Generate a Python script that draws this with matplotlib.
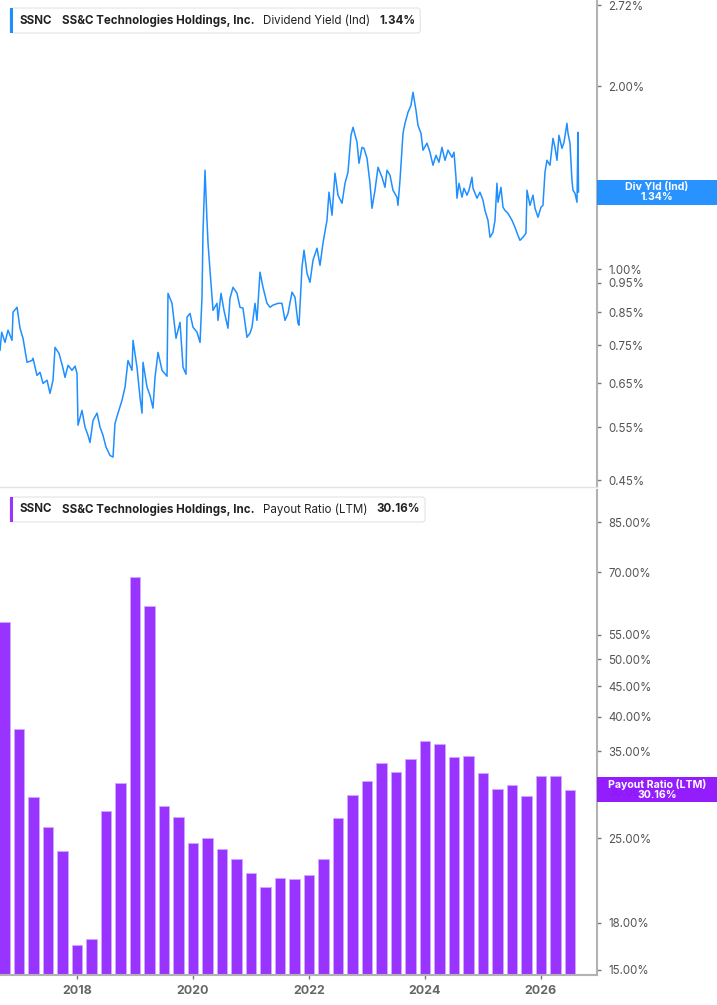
import matplotlib
matplotlib.use("Agg")
import matplotlib.pyplot as plt
from matplotlib.patches import Rectangle, FancyBboxPatch
from matplotlib.transforms import IdentityTransform
from matplotlib.ticker import FixedLocator, FixedFormatter, NullLocator

plt.rcParams['font.family'] = ['Inter', 'DejaVu Sans']

# Dividend yield (Ind), % (dates as decimal years)
yield_dates = [
    2016.672, 2016.701, 2016.759, 2016.810, 2016.879, 2016.897, 2016.966, 2017.017, 2017.069, 2017.138,
    2017.224, 2017.241, 2017.310, 2017.362, 2017.414, 2017.483, 2017.534, 2017.586, 2017.621, 2017.690,
    2017.759, 2017.793, 2017.845, 2017.914, 2017.966, 2018.000, 2018.017, 2018.086, 2018.138, 2018.190,
    2018.224, 2018.276, 2018.345, 2018.397, 2018.448, 2018.500, 2018.569, 2018.621, 2018.655, 2018.707,
    2018.776, 2018.828, 2018.879, 2018.948, 2018.966, 2019.034, 2019.086, 2019.121, 2019.138, 2019.207,
    2019.259, 2019.310, 2019.345, 2019.397, 2019.466, 2019.552, 2019.569, 2019.638, 2019.707, 2019.776,
    2019.828, 2019.879, 2019.897, 2019.948, 2020.000, 2020.069, 2020.121, 2020.155, 2020.172, 2020.207,
    2020.241, 2020.259, 2020.293, 2020.345, 2020.414, 2020.431, 2020.483, 2020.534, 2020.603, 2020.638,
    2020.690, 2020.759, 2020.810, 2020.862, 2020.931, 2020.983, 2021.017, 2021.069, 2021.103, 2021.155,
    2021.207, 2021.276, 2021.328, 2021.379, 2021.466, 2021.534, 2021.586, 2021.638, 2021.707, 2021.759,
    2021.810, 2021.828, 2021.879, 2021.914, 2021.966, 2022.017, 2022.069, 2022.138, 2022.190, 2022.241,
    2022.310, 2022.345, 2022.397, 2022.448, 2022.500, 2022.569, 2022.621, 2022.672, 2022.724, 2022.759,
    2022.828, 2022.862, 2022.914, 2022.948, 2023.000, 2023.052, 2023.086, 2023.138, 2023.190, 2023.259,
    2023.310, 2023.345, 2023.397, 2023.448, 2023.517, 2023.534, 2023.569, 2023.621, 2023.655, 2023.707,
    2023.759, 2023.793, 2023.845, 2023.879, 2023.931, 2023.966, 2024.034, 2024.086, 2024.138, 2024.190,
    2024.241, 2024.293, 2024.345, 2024.397, 2024.466, 2024.500, 2024.534, 2024.552, 2024.586, 2024.638,
    2024.672, 2024.724, 2024.759, 2024.810, 2024.828, 2024.897, 2024.948, 2025.000, 2025.034, 2025.086,
    2025.121, 2025.172, 2025.207, 2025.241, 2025.259, 2025.310, 2025.345, 2025.379, 2025.431, 2025.500,
    2025.552, 2025.603, 2025.638, 2025.690, 2025.741, 2025.759, 2025.810, 2025.862, 2025.897, 2025.948,
    2026.000, 2026.034, 2026.069, 2026.103, 2026.155, 2026.207, 2026.241, 2026.276, 2026.310, 2026.362,
    2026.397, 2026.448, 2026.466, 2026.500, 2026.534, 2026.552, 2026.586, 2026.621, 2026.638, 2026.647,
]
yield_values = [
    0.736, 0.788, 0.758, 0.794, 0.764, 0.850, 0.866, 0.800, 0.770, 0.703,
    0.708, 0.714, 0.669, 0.677, 0.649, 0.657, 0.625, 0.657, 0.744, 0.727,
    0.687, 0.664, 0.695, 0.682, 0.693, 0.674, 0.554, 0.586, 0.550, 0.533,
    0.519, 0.564, 0.580, 0.550, 0.533, 0.510, 0.494, 0.491, 0.558, 0.580,
    0.609, 0.640, 0.708, 0.682, 0.764, 0.690, 0.616, 0.580, 0.703, 0.640,
    0.620, 0.591, 0.664, 0.730, 0.682, 0.667, 0.913, 0.879, 0.770, 0.818,
    0.690, 0.672, 0.834, 0.846, 0.803, 0.788, 0.758, 0.899, 1.146, 1.455,
    1.204, 1.104, 0.996, 0.856, 0.879, 0.824, 0.913, 0.856, 0.800, 0.896,
    0.934, 0.913, 0.866, 0.863, 0.773, 0.785, 0.803, 0.879, 0.824, 0.989,
    0.934, 0.879, 0.866, 0.873, 0.879, 0.879, 0.824, 0.846, 0.917, 0.899,
    0.815, 0.809, 1.008, 1.075, 0.985, 0.952, 1.035, 1.083, 1.015, 1.104,
    1.204, 1.339, 1.227, 1.439, 1.324, 1.284, 1.385, 1.444, 1.661, 1.712,
    1.618, 1.494, 1.587, 1.581, 1.523, 1.385, 1.260, 1.349, 1.472, 1.417,
    1.364, 1.455, 1.428, 1.349, 1.314, 1.274, 1.401, 1.674, 1.738, 1.812,
    1.861, 1.955, 1.826, 1.725, 1.674, 1.570, 1.612, 1.558, 1.483, 1.540,
    1.500, 1.587, 1.511, 1.570, 1.528, 1.558, 1.417, 1.309, 1.385, 1.314,
    1.359, 1.324, 1.349, 1.417, 1.359, 1.309, 1.339, 1.299, 1.250, 1.204,
    1.129, 1.150, 1.204, 1.385, 1.289, 1.364, 1.265, 1.250, 1.236, 1.204,
    1.172, 1.137, 1.116, 1.129, 1.146, 1.349, 1.274, 1.324, 1.260, 1.218,
    1.265, 1.274, 1.444, 1.511, 1.483, 1.642, 1.587, 1.511, 1.661, 1.581,
    1.618, 1.738, 1.674, 1.612, 1.401, 1.349, 1.334, 1.289, 1.680, 1.34,
]

# Payout ratio (LTM), %, one bar per quarter
payout_dates = [
    2016.75, 2017.00, 2017.25, 2017.50, 2017.75, 2018.00, 2018.25, 2018.50, 2018.75, 2019.00,
    2019.25, 2019.50, 2019.75, 2020.00, 2020.25, 2020.50, 2020.75, 2021.00, 2021.25, 2021.50,
    2021.75, 2022.00, 2022.25, 2022.50, 2022.75, 2023.00, 2023.25, 2023.50, 2023.75, 2024.00,
    2024.25, 2024.50, 2024.75, 2025.00, 2025.25, 2025.50, 2025.75, 2026.00, 2026.25, 2026.50,
]
payout_values = [
    57.7, 38.2, 29.3, 26.1, 23.8, 16.5, 16.9, 27.8, 31.0, 68.7,
    61.4, 28.3, 27.1, 24.5, 25.0, 24.0, 23.1, 21.8, 20.7, 21.4,
    21.3, 21.7, 23.1, 27.0, 29.5, 31.2, 33.5, 32.3, 33.9, 36.4,
    36.0, 34.2, 34.3, 32.2, 30.2, 30.7, 29.4, 31.8, 31.8, 30.16,
]

yield_ticks = [0.45, 0.55, 0.65, 0.75, 0.85, 0.95, 1.00, 2.00, 2.72]
payout_ticks = [15, 18, 25, 30, 35, 40, 45, 50, 55, 70, 85]
year_ticks = [2018, 2020, 2022, 2024, 2026]

blue = '#1f8fff'
purple = '#9933ff'
purple_box = '#9013fe'
axis_grey = '#b3b3b3'
W, H = 717, 1005

fig = plt.figure(figsize=(W / 100, H / 100), dpi=100)
ax1 = fig.add_axes([0, 1 - 487 / H, 597 / W, 487 / H])
ax2 = fig.add_axes([0, 30 / H, 597 / W, 485 / H])

# top panel: dividend yield line
ax1.plot(yield_dates, yield_values, color=blue, lw=1.1)
ax1.set_yscale('log')
ax1.set_ylim(0.4384, 2.773)

# bottom panel: payout ratio bars
ax2.set_yscale('log')
ax2.bar(payout_dates, payout_values, width=0.185, color=purple,
        edgecolor='#cfa8ff', linewidth=0.6)
ax2.set_ylim(14.71, 96.3)

for ax, ticks in [(ax1, yield_ticks), (ax2, payout_ticks)]:
    ax.set_xlim(2016.672, 2026.966)
    ax.yaxis.tick_right()
    ax.yaxis.set_major_locator(FixedLocator(ticks))
    ax.yaxis.set_major_formatter(FixedFormatter(['{:.2f}%'.format(t) for t in ticks]))
    ax.yaxis.set_minor_locator(NullLocator())
    ax.tick_params(axis='y', direction='out', length=3, width=1, color='#777777',
                   labelsize=8.3, labelcolor='#555555', pad=5)
    ax.spines['left'].set_visible(False)
    ax.spines['top'].set_visible(False)
    ax.spines['right'].set_color(axis_grey)
    ax.spines['right'].set_linewidth(1.5)

ax1.set_xticks([])
ax1.spines['bottom'].set_color('#e2e2e2')
ax1.spines['bottom'].set_linewidth(1.0)

ax2.set_xticks(year_ticks)
ax2.set_xticklabels([str(y) for y in year_ticks])
ax2.tick_params(axis='x', direction='out', length=3, width=1, color='#777777',
                labelsize=9, labelcolor='#666666', pad=4)
for lbl in ax2.get_xticklabels():
    lbl.set_fontweight('bold')
ax2.spines['bottom'].set_color(axis_grey)
ax2.spines['bottom'].set_linewidth(1.5)

renderer = fig.canvas.get_renderer()


def value_box(ax, x, value, text, color):
    # coloured tag on the right axis at the latest value
    _, ypix = ax.transData.transform((x, value))
    x0 = ax.get_position().x1 * W
    fig.patches.append(Rectangle((x0, ypix - 12.5), W - x0, 25, transform=IdentityTransform(),
                                 facecolor=color, edgecolor='none', alpha=0.96, zorder=5))
    fig.text((x0 + W) / 2 / W, ypix / H, text, ha='center', va='center', color='white',
             fontsize=7.6, fontweight='bold', linespacing=1.0, zorder=6)


def legend_box(top_px, color, pieces):
    # white header box with coloured bar, text pieces laid out one after another
    y_center = H - top_px - 12.5
    x = 20
    last = None
    for txt, weight in pieces:
        t = fig.text(x / W, y_center / H, txt, ha='left', va='center', fontsize=8.3,
                     fontweight=weight, color='#222222', zorder=6)
        bb = t.get_window_extent(renderer)
        x = bb.x1 + 9
        last = bb.x1
    right = last + 5
    fig.patches.append(FancyBboxPatch((10, H - top_px - 25), right - 10, 25,
                                      boxstyle='round,pad=0,rounding_size=3',
                                      transform=IdentityTransform(), facecolor='white',
                                      edgecolor='#e3e3e3', linewidth=0.8, zorder=4))
    fig.patches.append(Rectangle((10, H - top_px - 25), 3, 25, transform=IdentityTransform(),
                                 facecolor=color, edgecolor='none', zorder=5))


value_box(ax1, yield_dates[-1], yield_values[-1], 'Div Yld (Ind)\n1.34%', blue)
value_box(ax2, payout_dates[-1], payout_values[-1], 'Payout Ratio (LTM)\n30.16%', purple_box)

legend_box(8, blue, [('SSNC', 'bold'), ('SS&C Technologies Holdings, Inc.', 'bold'),
                     ('Dividend Yield (Ind)', 'normal'), ('1.34%', 'bold')])
legend_box(497, purple, [('SSNC', 'bold'), ('SS&C Technologies Holdings, Inc.', 'bold'),
                         ('Payout Ratio (LTM)', 'normal'), ('30.16%', 'bold')])

fig.savefig('out.png', dpi=100, facecolor='white')
